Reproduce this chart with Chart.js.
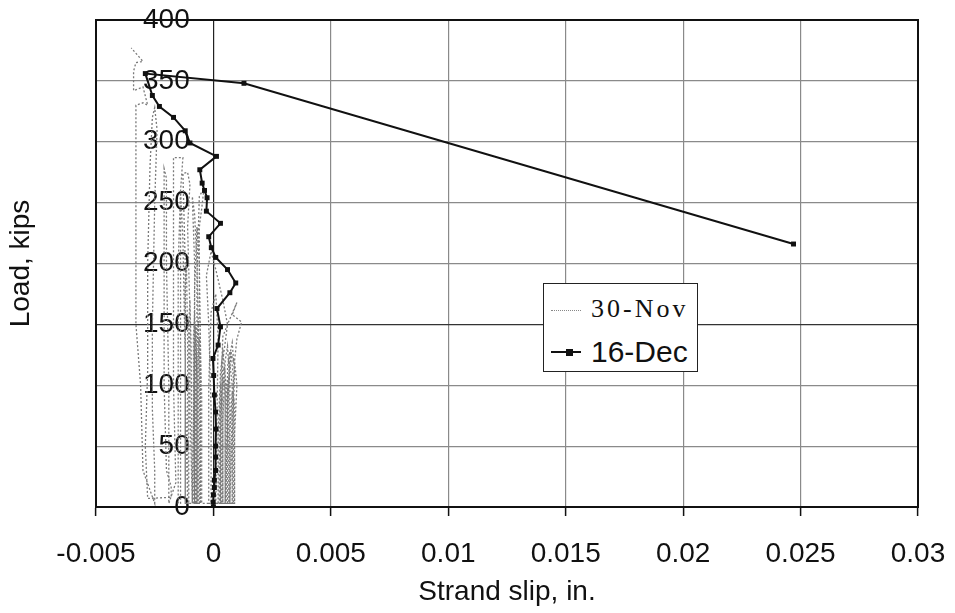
<!DOCTYPE html>
<html><head><meta charset="utf-8">
<script src="https://cdn.jsdelivr.net/npm/chart.js@4.4.1/dist/chart.umd.min.js"></script>
<style>
html,body{margin:0;padding:0;background:#fff;}
#wrap{position:relative;width:955px;height:613px;}
#legend{position:absolute;left:543px;top:283px;width:153px;height:87px;border:1.5px solid #222;background:#fff;}
#legend .s1{position:absolute;left:7px;top:26px;width:30px;height:0;border-top:1.5px dotted #888;}
#legend .s2{position:absolute;left:7px;top:67px;width:30px;height:2px;background:#111;}
#legend .m2{position:absolute;left:22px;top:65px;width:7px;height:7px;background:#111;}
#legend .t1{position:absolute;left:47px;top:12px;font:26px/26px 'Liberation Serif','Times New Roman',serif;letter-spacing:3px;color:#111;white-space:nowrap;}
#legend .t2{position:absolute;left:47px;top:53px;font:30px/30px 'Liberation Sans',Arial,sans-serif;color:#111;white-space:nowrap;}
</style></head>
<body>
<div id="wrap">
<canvas id="c"></canvas>
<div id="legend"><div class="s1"></div><span class="t1">30-Nov</span><div class="s2"></div><div class="m2"></div><span class="t2">16-Dec</span></div>
</div>
<script>
const xTickLabels = ['-0.005','0','0.005','0.01','0.015','0.02','0.025','0.03'];
const yTickLabels = ['0','50','100','150','200','250','300','350','400'];
const seriesNames = ['30-Nov','16-Dec'];

const dec16Slip = [0, -0.00001, 0, 0.00004, 0.00004, 0.00009, 0.00009, 0.00009, 0.00011, 0.00009, 0.00004, 0.00001, -0.00002, 0.0002, 0.0003, 0.00015, 0.0007, 0.00095, 0.0006, 0.0001, -0.00009, -0.0002, 0.0003, -0.0003, -0.00027, -0.00038, -0.00048, -0.00058, 0.00013, -0.001, -0.0012, -0.0017, -0.0023, -0.0026, -0.0029, 0.0013, 0.0247];
const dec16Load = [0, 4, 10, 16, 22, 30, 41, 50, 64, 78, 92, 108, 122, 133, 148, 163, 176, 184, 195, 205, 213, 222, 233, 243, 254, 260, 266, 277, 288, 299, 309, 320, 329, 338, 356, 348, 216];

const nov30Slip = [
 0.0002,0.0002,0.0003,0.0004,0.0005,0.0005,0.0005,
 0.0004,0.0004,0.0005,0.0006,0.0007,0.0007,0.0007,
 0.0006,0.0006,0.0007,0.0008,0.0009,0.0008,0.0008,
 0.0003,0.0003,0.0004,0.0005,0.0005,
 0.0006,0.0006,0.0007,0.0008,0.0008,
 0.00035,0.00035,0.00045,0.00055,0.00055,
 0.00065,0.00065,0.00075,0.00085,0.00085,
 0.00025,0.00025,0.0003,0.0004,0.0004,
 0.0007,0.0007,0.0008,0.0009,0.0009,
 0.0003,0.0003,0.0004,0.0006,0.0010,0.0008,0.0012,0.0010,0.0009,0.0010,0.0009,0.0009,
 0.0005,0.0006,0.0006,0.0007,0.0009,0.0008,0.0007,
 -0.0001,-0.0001,-0.0002,-0.0003,-0.0001,0.0001,0.0004,0.0006,0.0004,0.0003,0.0003,
 -0.0002,-0.0002,-0.0001,0.0001,0.0002,0.0001,
 -0.0005,-0.0005,-0.0006,-0.0006,-0.0005,-0.0004,-0.0006,-0.0007,-0.0007,-0.0007,
 -0.00055,-0.00055,-0.0006,-0.00065,-0.00065,
 -0.0007,-0.0007,-0.00075,-0.0008,-0.0008,
 -0.0006,-0.0006,-0.00065,-0.0007,-0.0007,
 -0.00075,-0.00075,-0.0008,-0.00085,-0.00085,
 -0.0006,-0.0006,-0.0007,-0.0008,-0.0009,-0.0008,-0.0008,-0.0008,
 -0.00055,-0.00055,-0.0006,-0.0007,-0.0008,-0.00085,-0.0009,
 -0.0009,-0.00095,-0.001,-0.00105,-0.00105,
 -0.0011,-0.0011,-0.00115,-0.0012,-0.0012,
 -0.0009,-0.0010,-0.0010,-0.0011,-0.0010,-0.0011,-0.0013,-0.0012,-0.0012,-0.0011,
 -0.0012,-0.0012,-0.0013,-0.0014,-0.0014,-0.0014,
 -0.0015,-0.0015,-0.0015,-0.0014,-0.0013,-0.0017,-0.0017,-0.0017,-0.0016,
 -0.0019,-0.0019,-0.0020,-0.0020,-0.0021,-0.0021,-0.0021,-0.0020,-0.0018,-0.0018,-0.0028,
 -0.0029,-0.0028,-0.0028,-0.0027,-0.0026,-0.0025,-0.0024,-0.0025,-0.0026,-0.0026,-0.0025,-0.0025,
 -0.0030,-0.0031,-0.0033,-0.0033,-0.0033,-0.0033,-0.0030,-0.0028,-0.0030,-0.0034,-0.0034,-0.0033,-0.0030,-0.0035
];
const nov30Load = [
 3,60,110,128,110,50,3,
 3,70,120,132,100,40,3,
 3,80,125,135,110,50,3,
 3,75,105,95,3,
 3,95,118,100,3,
 3,85,115,100,3,
 3,100,128,105,3,
 3,70,98,88,3,
 3,60,95,85,3,
 3,90,140,150,168,158,152,138,120,100,60,3,
 3,60,115,128,118,80,3,
 3,80,150,190,210,195,170,150,120,60,3,
 3,100,160,175,140,3,
 3,90,170,230,245,262,255,190,90,3,
 3,90,140,120,3,
 3,100,150,130,3,
 3,110,155,130,3,
 3,120,160,140,3,
 3,110,200,240,255,200,100,3,
 3,130,200,230,180,60,3,
 3,130,170,150,3,
 3,140,200,180,3,
 3,80,160,230,265,275,274,200,100,3,
 3,120,220,260,200,3,
 3,100,200,260,287,287,200,100,20,
 3,100,200,270,278,200,100,30,17,8,7,
 50,112,200,280,320,328,310,250,150,80,30,3,
 30,100,150,250,300,330,332,330,345,342,358,365,366,377
];

const toPts = (xs, ys) => xs.map((v, i) => ({x: v, y: ys[i]}));

Chart.defaults.font.family = "'Liberation Sans', Arial, sans-serif";
Chart.defaults.color = '#111';

const frame = {
  id: 'frame',
  afterDatasetsDraw(chart) {
    const {ctx, chartArea: a} = chart;
    ctx.save();
    ctx.strokeStyle = '#111';
    ctx.lineWidth = 2;
    ctx.strokeRect(a.left, a.top, a.right - a.left, a.bottom - a.top);
    ctx.restore();
  }
};

const isVal = (ctx, v) => ctx.tick && Math.abs(ctx.tick.value - v) < 1e-9;

new Chart(document.getElementById('c'), {
  type: 'scatter',
  data: {
    datasets: [
      {
        label: seriesNames[1],
        data: toPts(dec16Slip, dec16Load),
        showLine: true,
        borderColor: '#111',
        borderWidth: 2,
        pointStyle: 'rect',
        pointRadius: 3.5,
        pointBackgroundColor: '#111',
        pointBorderColor: '#111',
        pointBorderWidth: 0,
        tension: 0,
        order: 0
      },
      {
        label: seriesNames[0],
        data: toPts(nov30Slip, nov30Load),
        showLine: true,
        borderColor: '#7a7a7a',
        borderWidth: 1.3,
        borderDash: [2, 2],
        pointRadius: 0,
        tension: 0,
        order: 1
      }
    ]
  },
  options: {
    responsive: true,
    maintainAspectRatio: false,
    animation: false,
    layout: {padding: {left: 0, right: 37, top: 20, bottom: 0}},
    plugins: {legend: {display: false}, tooltip: {enabled: false}},
    scales: {
      x: {
        type: 'linear',
        min: -0.005, max: 0.03,
        ticks: {stepSize: 0.005, font: {size: 28}, color: '#111', padding: 21,
                callback: (v, i) => xTickLabels[i]},
        grid: {color: ctx => isVal(ctx, 0) ? '#222' : '#8a8a8a', lineWidth: 1.2,
               tickColor: '#111', tickLength: 9, tickWidth: 1.5},
        border: {color: '#111', width: 2},
        title: {display: true, text: 'Strand slip, in.', font: {size: 28}, color: '#111',
                padding: {top: 0, bottom: 4}},
        afterFit: s => { s.height = 106; s.paddingLeft = 0; s.paddingRight = 0; }
      },
      y: {
        type: 'linear',
        min: 0, max: 400,
        ticks: {stepSize: 50, mirror: true, crossAlign: 'far', padding: 47,
                font: {size: 28}, color: '#111', callback: (v, i) => yTickLabels[i]},
        grid: {color: ctx => isVal(ctx, 150) ? '#333' : '#8a8a8a', lineWidth: 1.2,
               drawTicks: false, tickLength: 0},
        border: {color: '#111', width: 2},
        title: {display: true, text: 'Load, kips', font: {size: 28}, color: '#111',
                padding: {top: 4, bottom: 0}},
        afterFit: s => { s.width = 96; s.paddingTop = 0; s.paddingBottom = 0; }
      }
    }
  },
  plugins: [frame]
});
</script>
</body></html>
